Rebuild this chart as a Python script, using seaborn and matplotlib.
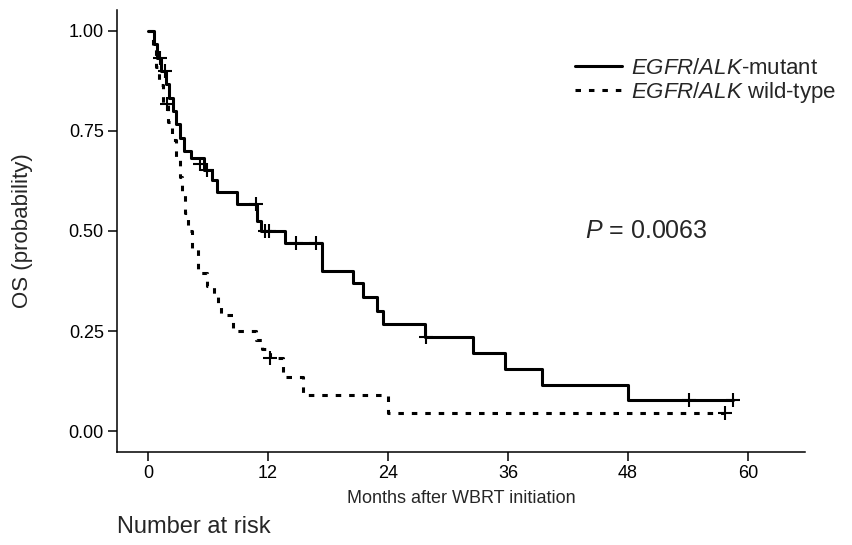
import matplotlib
matplotlib.use("Agg")
import matplotlib.pyplot as plt
from matplotlib.lines import Line2D
import seaborn as sns
import pandas as pd

# -------------------------------
# DATA
# -------------------------------
# EGFR/ALK-mutant: step start times (months) and survival after each step
mut_time = [0, 0.6, 0.9, 1.3, 1.8, 2.1, 2.5, 2.8, 3.2, 3.6, 4.3, 5.6, 6.4, 6.9,
            8.9, 10.9, 11.3, 13.7, 17.4, 20.5, 21.5, 22.9, 23.5, 27.7, 32.5,
            35.7, 39.4, 48.0, 58.5]
mut_surv = [1.000, 0.967, 0.933, 0.900, 0.867, 0.833, 0.800, 0.767, 0.733, 0.700,
            0.683, 0.653, 0.627, 0.597, 0.567, 0.525, 0.500, 0.470, 0.400, 0.370,
            0.336, 0.300, 0.267, 0.235, 0.195, 0.155, 0.115, 0.077, 0.077]
mut_cens_time = [1.2, 1.7, 5.2, 5.9, 10.8, 11.7, 12.1, 14.8, 16.8, 27.8, 54.1, 58.5]
mut_cens_surv = [0.933, 0.900, 0.667, 0.653, 0.567, 0.500, 0.500, 0.470, 0.470,
                 0.235, 0.077, 0.077]

# EGFR/ALK wild-type
wt_time = [0, 0.5, 0.8, 1.1, 1.5, 2.0, 2.4, 2.8, 3.2, 3.4, 3.7, 4.0, 4.4, 5.0,
           5.9, 6.6, 7.0, 7.3, 8.5, 10.8, 11.4, 12.2, 13.5, 15.5, 24.0, 57.7]
wt_surv = [1.000, 0.955, 0.909, 0.864, 0.818, 0.773, 0.727, 0.682, 0.636, 0.591,
           0.545, 0.500, 0.455, 0.395, 0.363, 0.340, 0.318, 0.290, 0.250, 0.227,
           0.205, 0.182, 0.136, 0.090, 0.045, 0.045]
wt_cens_time = [1.9, 12.2, 57.7]
wt_cens_surv = [0.818, 0.182, 0.045]

x_ticks = [0, 12, 24, 36, 48, 60]
y_ticks = [0.00, 0.25, 0.50, 0.75, 1.00]
y_ticklabels = ['0.00', '0.25', '0.50', '0.75', '1.00']

lab_mut = r'$\mathit{EGFR/ALK}$-mutant'
lab_wt = r'$\mathit{EGFR/ALK}$ wild-type'
p_text = r'$\mathit{P}$ = 0.0063'

# -------------------------------
# STYLE
# -------------------------------
sns.set_style('ticks')
plt.rcParams['font.family'] = ['Liberation Sans', 'DejaVu Sans']
plt.rcParams['mathtext.fontset'] = 'custom'
plt.rcParams['mathtext.rm'] = 'Liberation Sans'
plt.rcParams['mathtext.it'] = 'Liberation Sans:italic'

W, H = 852, 545
fig = plt.figure(figsize=(W / 100, H / 100), dpi=100)
ax = fig.add_axes([117 / W, (H - 452) / H, (805 - 117) / W, (452 - 10) / H])

LW = 2.2
dash = (1.8, 2.6)

mut = pd.DataFrame({'t': mut_time, 's': mut_surv})
wt = pd.DataFrame({'t': wt_time, 's': wt_surv})

sns.lineplot(data=mut, x='t', y='s', drawstyle='steps-post', estimator=None,
             sort=False, color='black', linewidth=LW, ax=ax)
sns.lineplot(data=wt, x='t', y='s', drawstyle='steps-post', estimator=None,
             sort=False, color='black', linewidth=LW, ax=ax)
ax.lines[-1].set_dashes(dash)

sns.scatterplot(x=mut_cens_time, y=mut_cens_surv, marker='+', s=100,
                color='black', linewidth=1.5, ax=ax, zorder=3)
sns.scatterplot(x=wt_cens_time, y=wt_cens_surv, marker='+', s=100,
                color='black', linewidth=1.5, ax=ax, zorder=3)

ax.set_xlim(-3.1, 65.7)
ax.set_ylim(-0.0525, 1.0525)
ax.set_xticks(x_ticks)
ax.set_yticks(y_ticks)
ax.set_yticklabels(y_ticklabels)
for lab in ax.get_xticklabels() + ax.get_yticklabels():
    lab.set_fontsize(13)
ax.tick_params(direction='out', length=6.5, width=1.1, colors='black', pad=3)
for side in ['top', 'right']:
    ax.spines[side].set_visible(False)
for side in ['left', 'bottom']:
    ax.spines[side].set_linewidth(1.1)
    ax.spines[side].set_color('black')

ax.set_xlabel('Months after WBRT initiation', fontsize=13)
ax.xaxis.set_label_coords(0.5, -0.085)
ax.set_ylabel('OS (probability)', fontsize=16)
ax.yaxis.set_label_coords(-0.122, 0.5)

handles = [Line2D([], [], color='black', linewidth=LW),
           Line2D([], [], color='black', linewidth=LW, dashes=dash)]
ax.legend(handles, [lab_mut, lab_wt], loc='upper left',
          bbox_to_anchor=(575 / W, 1 - 58 / H), bbox_transform=fig.transFigure,
          frameon=False, fontsize=16, handlelength=2.1, handletextpad=0.4,
          labelspacing=0.05, borderpad=0, borderaxespad=0)

ax.text(43.7, 0.50, p_text, fontsize=18, va='center', ha='left')

fig.text(117 / W, 1 - 527 / H, 'Number at risk', fontsize=17,
         ha='left', va='center')

fig.savefig('out.png', dpi=100)
